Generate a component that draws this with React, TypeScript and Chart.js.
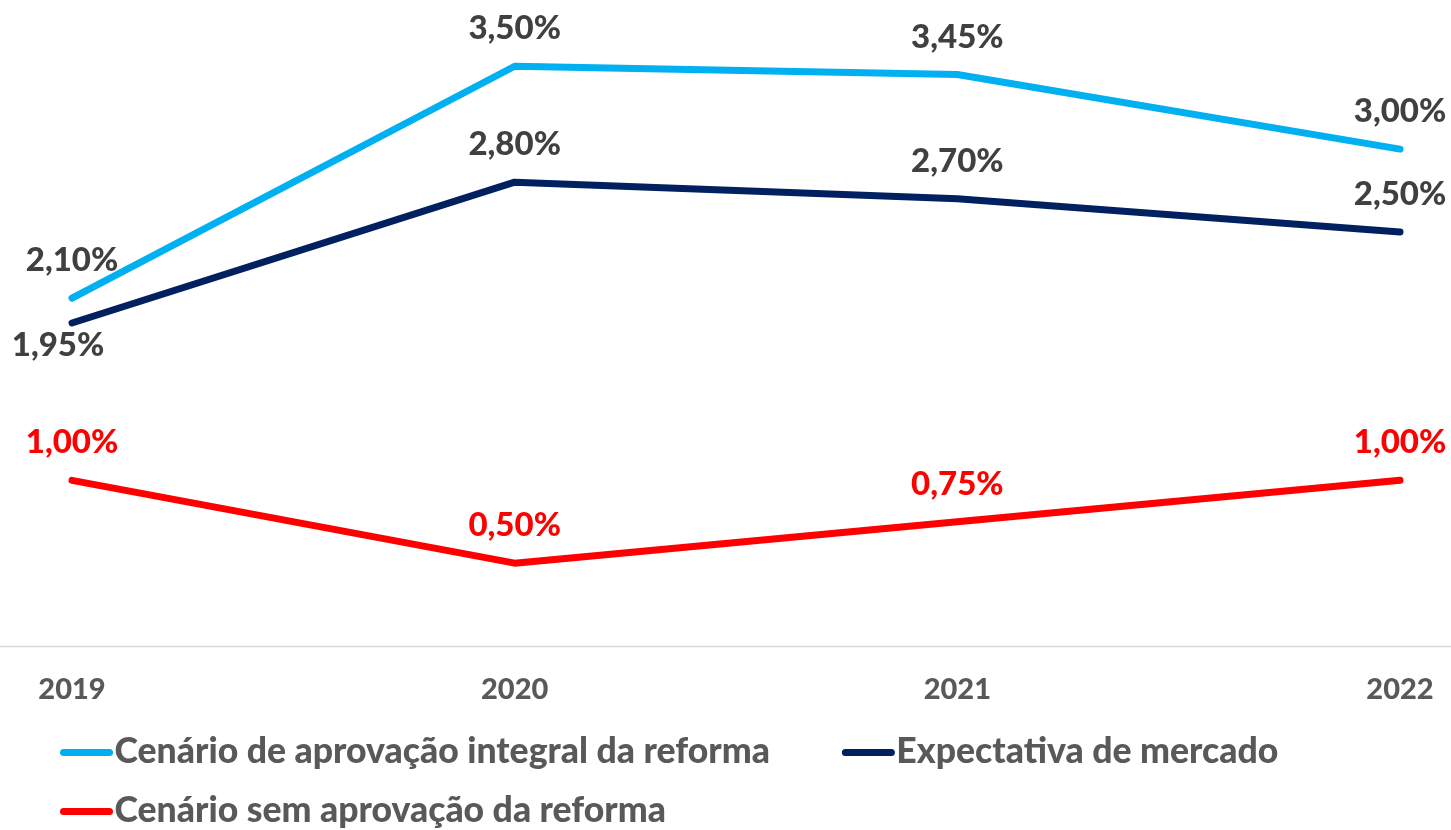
import { useEffect, useRef } from "react";
import { Chart, registerables } from "chart.js";

Chart.register(...registerables);

const categories = ["2019", "2020", "2021", "2022"];
const integralValues = [2.1, 3.5, 3.45, 3.0];
const mercadoValues = [1.95, 2.8, 2.7, 2.5];
const semReformaValues = [1.0, 0.5, 0.75, 1.0];
const seriesNames = [
  "Cenário de aprovação integral da reforma",
  "Expectativa de mercado",
  "Cenário sem aprovação da reforma",
];
const seriesColors = ["#00B0F0", "#002060", "#FF0000"];
const labelColors = ["#404040", "#404040", "#FF0000"];

const FONT = "Lato, 'Open Sans', sans-serif";
const W = 1451;
const H = 830;

const fmt = (v: number) => v.toFixed(2).replace(".", ",") + "%";

const labelPlugin = {
  id: "valueLabels",
  afterDatasetsDraw(chart: any) {
    const ctx = chart.ctx;
    ctx.save();
    ctx.font = `900 33px ${FONT}`;
    ctx.textAlign = "center";
    ctx.textBaseline = "alphabetic";
    chart.data.datasets.forEach((ds: any, i: number) => {
      const meta = chart.getDatasetMeta(i);
      ctx.fillStyle = ds.labelColor;
      meta.data.forEach((el: any, j: number) => {
        const dy = ds.labelDy ? ds.labelDy[j] : -27;
        const dx = ds.labelDx ? ds.labelDx[j] : 0;
        ctx.fillText(fmt(ds.data[j]), el.x + dx, el.y + dy);
      });
    });
    ctx.restore();
  },
};

const axisLinePlugin = {
  id: "axisLine",
  beforeDatasetsDraw(chart: any) {
    const ctx = chart.ctx;
    const y = Math.round(chart.scales.y.getPixelForValue(0)) + 0.5;
    ctx.save();
    ctx.strokeStyle = "#D9D9D9";
    ctx.lineWidth = 1.5;
    ctx.beginPath();
    ctx.moveTo(0, y);
    ctx.lineTo(chart.width, y);
    ctx.stroke();
    ctx.restore();
  },
};

const legendPlugin = {
  id: "customLegend",
  afterDraw(chart: any) {
    const ctx = chart.ctx;
    ctx.save();
    ctx.font = `900 35.6px ${FONT}`;
    ctx.textBaseline = "alphabetic";
    ctx.textAlign = "left";
    const rows = [
      { y: 752.5, items: [0, 1] },
      { y: 811.5, items: [2] },
    ];
    rows.forEach((row) => {
      let x = 63.5;
      row.items.forEach((idx) => {
        const ds = chart.data.datasets[idx];
        ctx.strokeStyle = ds.borderColor;
        ctx.lineWidth = 7;
        ctx.lineCap = "round";
        ctx.beginPath();
        ctx.moveTo(x, row.y);
        ctx.lineTo(x + 46, row.y);
        ctx.stroke();
        const tx = x + 51;
        ctx.fillStyle = "#595959";
        ctx.fillText(ds.label, tx, row.y + 10);
        const tw = ctx.measureText(ds.label).width;
        x = tx + tw + 75.5;
      });
    });
    ctx.restore();
  },
};

export default function App() {
  const ref = useRef<HTMLCanvasElement | null>(null);
  useEffect(() => {
    if (!ref.current) return;
    const chart = new Chart(ref.current, {
      type: "line",
      data: {
        labels: categories,
        datasets: [
          {
            label: seriesNames[0],
            data: integralValues,
            borderColor: seriesColors[0],
            labelColor: labelColors[0],
          } as any,
          {
            label: seriesNames[1],
            data: mercadoValues,
            borderColor: seriesColors[1],
            labelColor: labelColors[1],
            labelDy: [33, -27, -27, -27],
            labelDx: [-14, 0, 0, 0],
          } as any,
          {
            label: seriesNames[2],
            data: semReformaValues,
            borderColor: seriesColors[2],
            labelColor: labelColors[2],
          } as any,
        ].map((d: any) => ({
          ...d,
          borderWidth: 7,
          borderCapStyle: "round",
          borderJoinStyle: "round",
          pointRadius: 0,
          pointHoverRadius: 0,
          tension: 0,
          fill: false,
          clip: false,
        })),
      },
      options: {
        responsive: false,
        animation: false,
        events: [],
        layout: { padding: { left: 72, right: 51, top: 0, bottom: 0 } },
        plugins: {
          legend: { display: false },
          tooltip: { enabled: false },
        },
        scales: {
          x: {
            offset: false,
            grid: { display: false, drawTicks: false },
            border: { display: false },
            ticks: {
              color: "#595959",
              font: { family: FONT, size: 29, weight: "900", lineHeight: 3.03 },
              padding: 0,
              maxRotation: 0,
              autoSkip: false,
            },
            afterFit: (scale: any) => {
              scale.height = 184;
            },
          },
          y: {
            display: false,
            min: 0,
            max: 3.9,
          },
        },
      } as any,
      plugins: [axisLinePlugin, labelPlugin, legendPlugin],
    });
    return () => chart.destroy();
  }, []);
  return (
    <div style={{ position: "fixed", left: 0, top: 0, width: W, height: H, background: "#fff" }}>
      <canvas ref={ref} width={W} height={H} style={{ width: W, height: H, display: "block" }} />
    </div>
  );
}
